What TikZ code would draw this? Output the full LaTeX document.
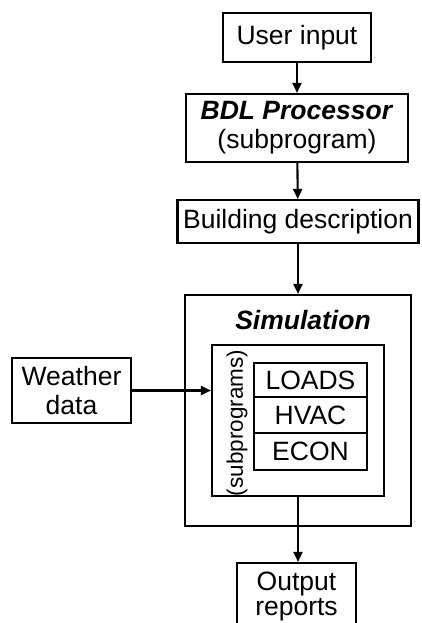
\documentclass[tikz,border=0pt]{standalone}
\usepackage{fontspec}
\setmainfont{Liberation Sans}
\usepackage{tikz}
\usetikzlibrary{arrows.meta,positioning,calc}

\begin{document}
\begin{tikzpicture}[x=1pt,y=-1pt,>={Triangle[length=10pt,width=9pt]},
box/.style={draw,line width=2.1pt,inner sep=0pt,align=center,font=\fontsize{26.5}{29}\selectfont},
flow/.style={->,line width=2.1pt}]
\useasboundingbox (0,0) rectangle (421,623);
% main chain
\node[box,minimum width=148pt,minimum height=49pt](user) at (297,37.5){User input};
\node[box,minimum width=222pt,minimum height=68pt](bdl) at (297,128){\textbf{\textit{BDL Processor}}\\(subprogram)};
\node[box,minimum width=241pt,minimum height=43pt](bldg) at (298,221.5){Building description};
\node[box,minimum width=226pt,minimum height=231pt](sim) at (298,410.5){};
\node[font=\fontsize{26.5}{29}\selectfont\bfseries\itshape](simtitle) at (303,320){Simulation};
\node[box,minimum width=172pt,minimum height=151pt](sub) at (298,420.5){};
\node[rotate=90,font=\fontsize{22.5}{25}\selectfont](sublabel) at (237,423){(subprograms)};
\node[box,minimum width=113pt,minimum height=34pt](loads) at (310.5,380){LOADS};
\node[box,minimum width=113pt,minimum height=36pt](hvac) at (310.5,415){HVAC};
\node[box,minimum width=113pt,minimum height=37pt](econ) at (310.5,451.5){ECON};
\node[box,minimum width=119pt,minimum height=65pt](weather) at (71.5,390.5){Weather\\data};
\node[box,minimum width=119pt,minimum height=66pt,font=\fontsize{26.5}{25}\selectfont](output) at (296.5,596){Output\\reports};
% connectors
\draw[flow](user)--(bdl);
\draw[flow](bdl)--(bldg);
\draw[flow](bldg)--(sim);
\draw[flow](weather.east)--(weather.east-|sub.west);
\draw[flow](sub.south)--(sub.south|-output.north);
\end{tikzpicture}
\end{document}
